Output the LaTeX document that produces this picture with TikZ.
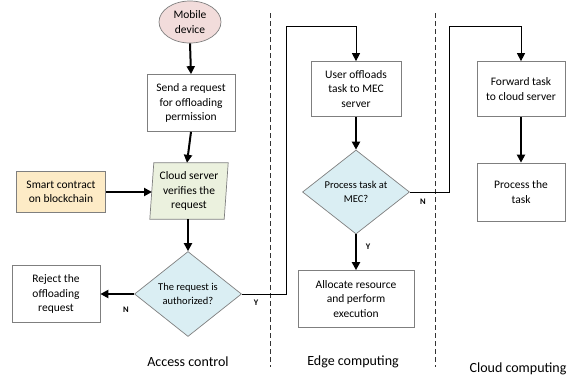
\documentclass[tikz,border=0pt]{standalone}
\usepackage{fontspec}
\setmainfont{Carlito}
\usetikzlibrary{shapes.geometric,arrows.meta}
\definecolor{pinkfill}{HTML}{F2DCDB}
\definecolor{greenfill}{HTML}{EBF1DE}
\definecolor{orangefill}{HTML}{FDEBC6}
\definecolor{bluefill}{HTML}{DAEEF3}
\definecolor{edgegray}{HTML}{7F7F7F}
\tikzset{
  box/.style={draw=edgegray, line width=0.7pt, rectangle, align=center, inner sep=1pt,
    font=\fontsize{11.5}{14.5}\selectfont},
  decision/.style={draw=edgegray, line width=0.7pt, diamond, fill=bluefill, align=center, inner sep=0pt,
    font=\fontsize{10.5}{13.5}\selectfont},
  thick arrow/.style={line width=2pt, -{Triangle[length=8pt,width=8pt]}},
  thin arrow/.style={line width=1pt, -{Triangle[length=8pt,width=8pt]}},
  yn/.style={font=\fontsize{8.5}{9}\selectfont\bfseries},
  region/.style={font=\fontsize{14}{16}\selectfont},
  divider/.style={draw=black!80, line width=0.8pt, dash pattern=on 5pt off 3pt}
}
\begin{document}
\begin{tikzpicture}[x=1pt,y=-1pt]
\useasboundingbox (0,0) rectangle (572,378);
% nodes
\node[ellipse, draw=edgegray, line width=0.7pt, fill=pinkfill, minimum width=62pt, minimum height=42pt,
  inner sep=0pt, align=center, font=\fontsize{11.5}{14.5}\selectfont] (mobile) at (190,22) {Mobile\\device};
\node[box, minimum width=88pt, minimum height=57pt] (send) at (191,103) {Send a request\\for offloading\\permission};
\node[align=center, minimum width=74pt, minimum height=56pt, inner sep=0pt,
  font=\fontsize{11.5}{14.5}\selectfont] (cloud) at (189,191) {};
\draw[draw=edgegray, line width=0.7pt, fill=greenfill]
  ([xshift=2pt]cloud.north west) -- ([xshift=2pt]cloud.north east)
  -- ([xshift=-2pt]cloud.south east) -- ([xshift=-2pt]cloud.south west) -- cycle;
\node[align=center, inner sep=0pt, font=\fontsize{11.5}{14.5}\selectfont] at (cloud.center) {Cloud server\\verifies the\\request};
\node[box, fill=orangefill, minimum width=89pt, minimum height=41pt] (smart) at (61,192) {Smart contract\\on blockchain};
\node[decision, minimum width=107pt, minimum height=85pt, aspect=1.26] (auth) at (188,294) {The request is\\authorized?};
\node[box, minimum width=88pt, minimum height=57pt] (reject) at (56,294) {Reject the\\offloading\\request};
\node[box, minimum width=90pt, minimum height=55pt] (user) at (356,89) {User offloads\\task to MEC\\server};
\node[decision, minimum width=107pt, minimum height=84pt, aspect=1.27] (mec) at (356,192) {Process task at\\MEC?};
\node[box, minimum width=116pt, minimum height=57pt] (alloc) at (356,299) {Allocate resource\\and perform\\execution};
\node[box, minimum width=88pt, minimum height=55pt] (fwd) at (521,89) {Forward task\\to cloud server};
\node[box, minimum width=88pt, minimum height=58pt] (proc) at (521,192) {Process the\\task};
% region labels
\node[region] (lac) at (188,362) {Access control};
\node[region] (lec) at (353,362) {Edge computing};
\node[region] (lcc) at (518,369) {Cloud computing};
% dividers
\coordinate (d1t) at (270,13); \coordinate (d1b) at (270,367);
\coordinate (d2t) at (435,13); \coordinate (d2b) at (435,367);
\draw[divider] (d1t) -- (d1b);
\draw[divider] (d2t) -- (d2b);
% connectors
\draw[thick arrow] (mobile.south) -- (send.north);
\draw[thick arrow] (send.south) -- ([xshift=-2pt]cloud.north);
\draw[thick arrow] (smart.east) -- (152,192);
\draw[thick arrow] ([xshift=-1pt]cloud.south) -- (auth.north);
\draw[thick arrow] (auth.west) -- (reject.east);
\node[yn] (nl) at (126,310) {N};
\coordinate (r1a) at (286,294); \coordinate (r1b) at (286,26); \coordinate (r1c) at (356,26);
\draw[thin arrow] (auth.east) -- (r1a) -- (r1b) -- (r1c) -- (user.north);
\node[yn] (yl) at (256,303) {Y};
\draw[thick arrow] (user.south) -- (mec.north);
\draw[thick arrow] (mec.south) -- (alloc.north);
\node[yn] (yl2) at (368,247) {Y};
\coordinate (r2a) at (449,192); \coordinate (r2b) at (449,26); \coordinate (r2c) at (521,26);
\draw[thin arrow] (mec.east) -- (r2a) -- (r2b) -- (r2c) -- (fwd.north);
\node[yn] (nl2) at (423,202) {N};
\draw[thick arrow] (fwd.south) -- (proc.north);
\end{tikzpicture}
\end{document}
